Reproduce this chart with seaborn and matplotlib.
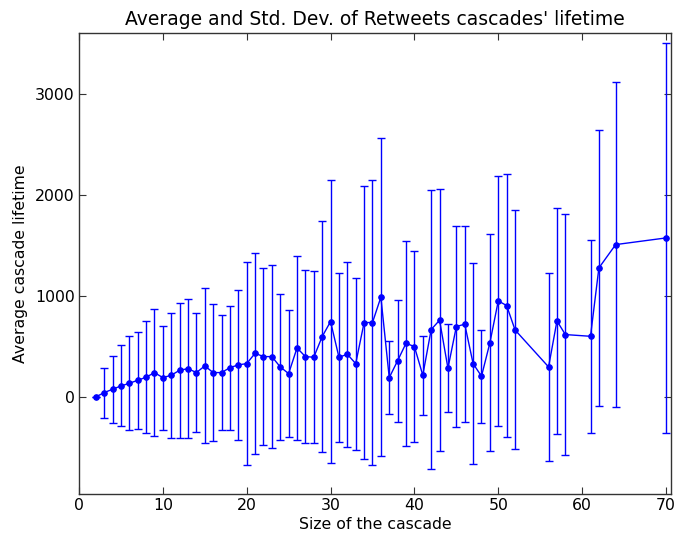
import matplotlib
matplotlib.use("Agg")
import matplotlib.pyplot as plt
import seaborn as sns
import pandas as pd

sizes = [2, 3, 4, 5, 6, 7, 8, 9, 10, 11, 12, 13, 14, 15, 16, 17, 18, 19, 20,
         21, 22, 23, 24, 25, 26, 27, 28, 29, 30, 31, 32, 33, 34, 35, 36, 37,
         38, 39, 40, 41, 42, 43, 44, 45, 46, 47, 48, 49, 50, 51, 52,
         56, 57, 58, 61, 62, 64, 70]
avg_lifetime = [0, 43, 76, 109, 135, 165, 195, 241, 191, 215, 264, 280, 241,
                307, 241, 241, 290, 317, 330, 432, 399, 399, 297, 231, 485,
                399, 393, 597, 746, 393, 422, 330, 736, 736, 987, 191, 359,
                531, 498, 215, 667, 759, 284, 696, 720, 330, 205, 535, 950,
                904, 663, 297, 752, 617, 600, 1276, 1507, 1573]
std_lifetime = [0, 248, 330, 400, 463, 479, 556, 630, 515, 619, 666, 688, 588,
                766, 675, 565, 612, 742, 1006, 994, 872, 902, 723, 630, 911,
                858, 852, 1139, 1398, 838, 915, 850, 1346, 1412, 1576, 363, 604,
                1012, 942, 390, 1383, 1297, 436, 992, 968, 992, 458, 1072, 1236,
                1300, 1182, 928, 1120, 1192, 956, 1362, 1610, 1925]

df = pd.DataFrame({"size": sizes, "mean": avg_lifetime, "std": std_lifetime})

sns.set_theme(style="white", rc={
    "xtick.direction": "in", "ytick.direction": "in",
    "xtick.top": True, "ytick.right": True,
    "xtick.bottom": True, "ytick.left": True,
    "xtick.major.size": 5, "ytick.major.size": 5,
    "xtick.major.width": 0.8, "ytick.major.width": 0.8,
    "axes.edgecolor": "#333333", "axes.linewidth": 1.0,
    "xtick.color": "#333333", "ytick.color": "#333333",
    "xtick.labelcolor": "black", "ytick.labelcolor": "black",
    "text.color": "black", "axes.labelcolor": "black",
    "axes.titlecolor": "black",
})
plt.rcParams["font.family"] = ["DejaVu Sans"]

fig = plt.figure(figsize=(6.74, 5.36), dpi=100)
ax = fig.add_axes([79 / 674, 1 - 493.5 / 536, (671 - 79) / 674, (493.5 - 33) / 536])

ax.errorbar(df["size"], df["mean"], yerr=df["std"], fmt="none",
            ecolor="blue", elinewidth=1.0, capsize=3.2, capthick=1.0)
sns.lineplot(data=df, x="size", y="mean", ax=ax, color="blue", marker="o",
             markersize=4.0, markeredgecolor="blue", linewidth=1.0,
             errorbar=None)

ax.set_xlim(0, 70.6)
ax.set_ylim(-955, 3600)
ax.set_xticks([0, 10, 20, 30, 40, 50, 60, 70])
ax.set_yticks([0, 1000, 2000, 3000])
ax.tick_params(axis="x", labelsize=11.3, pad=3)
ax.tick_params(axis="y", labelsize=11.3, pad=3)
ax.set_xlabel("Size of the cascade", fontsize=11.3, labelpad=3)
ax.set_ylabel("Average cascade lifetime", fontsize=11.3, labelpad=5)
ax.set_title("Average and Std. Dev. of Retweets cascades' lifetime",
             fontsize=13.5, pad=6)
for s in ax.spines.values():
    s.set_visible(True)

fig.savefig("out.png", dpi=100)
